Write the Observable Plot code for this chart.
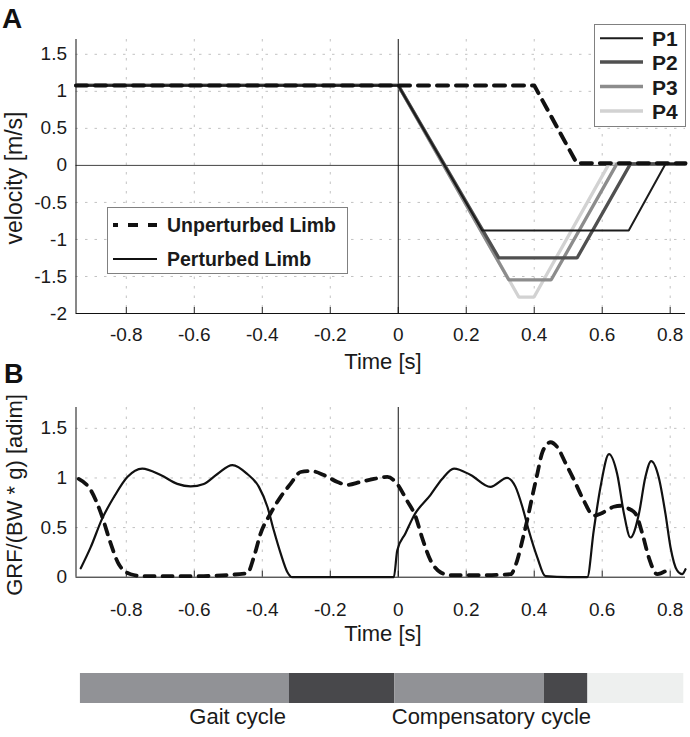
<!DOCTYPE html>
<html><head><meta charset="utf-8">
<script src="https://cdn.jsdelivr.net/npm/d3@7"></script>
<script src="https://cdn.jsdelivr.net/npm/@observablehq/plot@0.6"></script>
<style>
body{margin:0;background:#fff;}
#fig{position:relative;width:690px;height:737px;font-family:"Liberation Sans",Arial,Helvetica,sans-serif;overflow:hidden;}
#fig > svg, #fig > figure{position:absolute;left:0;margin:0;}
</style></head><body><div id="fig"></div>
<script>
// ---------- shared axis ----------
const xTicks = [-0.8, -0.6, -0.4, -0.2, 0, 0.2, 0.4, 0.6, 0.8];
const xDomain = [-0.948, 0.845];

// ---------- Panel A: velocity ----------
const velTicks = [-2, -1.5, -1, -0.5, 0, 0.5, 1, 1.5];
const velDomain = [-2, 1.7];
const unpertT = [-0.948, 0.40, 0.525, 0.845];
const unpertV = [1.08, 1.08, 0.03, 0.03];
const pNames = ["P1", "P2", "P3", "P4"];
const pColors = ["#1c1c1c", "#505050", "#8c8c8c", "#d2d2d2"];
const pWidths = [2, 3.3, 3.3, 3.3];
const pT = [
  [-0.948, 0, 0.247, 0.678, 0.786, 0.845],
  [-0.948, 0, 0.296, 0.526, 0.683, 0.845],
  [-0.948, 0, 0.325, 0.450, 0.643, 0.845],
  [-0.948, 0, 0.355, 0.399, 0.620, 0.845]
];
const pV = [
  [1.08, 1.08, -0.88, -0.88, 0.02, 0.02],
  [1.08, 1.08, -1.25, -1.25, 0.02, 0.02],
  [1.08, 1.08, -1.545, -1.545, 0.02, 0.02],
  [1.08, 1.08, -1.78, -1.78, 0.02, 0.02]
];

// ---------- Panel B: GRF ----------
const grfTicks = [0, 0.5, 1, 1.5];
const grfDomain = [0, 1.71];
const perturbedT = [-0.934,-0.905,-0.871,-0.836,-0.797,-0.753,-0.699,-0.65,-0.611,-0.572,-0.532,-0.488,-0.444,-0.41,-0.385,-0.366,-0.346,-0.326,-0.312,-0.2,-0.013,-0.003,0.021,0.046,0.095,0.129,0.164,0.213,0.271,0.32,0.345,0.365,0.384,0.409,0.433,0.5,0.556,0.575,0.595,0.62,0.644,0.664,0.683,0.708,0.727,0.744,0.766,0.786,0.801,0.82,0.835,0.845];
const perturbedF = [0.09,0.30,0.59,0.81,1.01,1.095,1.03,0.94,0.915,0.94,1.04,1.13,1.04,0.91,0.71,0.47,0.24,0.05,0,0,0,0.27,0.44,0.62,0.83,0.99,1.095,1.03,0.91,1.00,0.91,0.71,0.47,0.2,0.01,0,0,0.47,0.91,1.24,1.04,0.64,0.40,0.64,1.01,1.17,1.01,0.64,0.30,0.07,0.03,0.08];
const unpertBT = [-0.94,-0.905,-0.871,-0.846,-0.822,-0.787,-0.748,-0.6,-0.444,-0.425,-0.405,-0.376,-0.346,-0.317,-0.287,-0.258,-0.219,-0.179,-0.15,-0.111,-0.072,-0.032,-0.008,0.026,0.051,0.07,0.095,0.124,0.154,0.25,0.33,0.35,0.365,0.379,0.394,0.409,0.424,0.448,0.468,0.492,0.517,0.546,0.575,0.595,0.634,0.654,0.678,0.698,0.718,0.737,0.762,0.79];
const unpertBF = [0.99,0.88,0.61,0.34,0.13,0.03,0.01,0.01,0.04,0.20,0.44,0.64,0.81,0.94,1.06,1.07,1.03,0.96,0.93,0.96,0.99,1.01,0.96,0.77,0.61,0.40,0.17,0.05,0.02,0.02,0.03,0.17,0.37,0.57,0.81,1.04,1.26,1.36,1.31,1.15,0.98,0.77,0.62,0.64,0.71,0.72,0.69,0.64,0.44,0.20,0.03,0.07];

// ---------- Phase bar ----------
const phaseStart = [-0.935, -0.32, -0.01, 0.43, 0.558];
const phaseEnd   = [-0.32, -0.01, 0.43, 0.558, 0.84];
const phaseKind  = ["stance", "swing", "stance", "swing", "after"];
const cycleNames = ["Gait cycle", "Compensatory cycle"];
const cycleStart = [-0.935, -0.01];
const cycleEnd   = [-0.01, 0.558];

const FONT = '"Liberation Sans", Arial, Helvetica, sans-serif';
const fmt = d => String(d);
const gridStyle = {stroke: "#c2c2c2", strokeOpacity: 1, strokeDasharray: "2.5,7", strokeWidth: 1};

// rows
const unpertRows = unpertT.map((t, i) => ({t, v: unpertV[i]}));
const pRows = pNames.map((p, k) => pT[k].map((t, i) => ({p, t, v: pV[k][i]})));
const grfPert = perturbedT.map((t, i) => ({t, f: perturbedF[i]}));
const grfUnp = unpertBT.map((t, i) => ({t, f: unpertBF[i]}));
const phases = phaseStart.map((s, i) => ({s, e: phaseEnd[i], k: phaseKind[i]}));
const cycles = cycleNames.map((n, i) => ({n, m: (cycleStart[i] + cycleEnd[i]) / 2}));

const fig = document.getElementById("fig");

// Panel A
const hA = 372, mTA = 39, mBA = 59;
const plotA = Plot.plot({
  width: 690, height: hA, marginTop: mTA, marginBottom: mBA, marginLeft: 75.5, marginRight: 5,
  style: {fontFamily: FONT, fontSize: "19px", color: "#1a1a1a", background: "transparent", overflow: "visible"},
  x: {domain: xDomain},
  y: {domain: velDomain},
  color: {domain: pNames, range: pColors},
  marks: [
    Plot.gridX(xTicks.filter(d => d !== 0), gridStyle),
    Plot.gridY(velTicks.filter(d => d !== velDomain[0] && d !== 0), gridStyle),
    Plot.axisX(xTicks, {tickSize: 0, tickPadding: 14, tickFormat: fmt, fontSize: 19, fill: "#1a1a1a", label: null}),
    Plot.axisY(velTicks, {tickSize: 0, tickPadding: 9, tickFormat: fmt, fontSize: 19, fill: "#1a1a1a", label: null}),
    Plot.tickX(xTicks, {x: d => d, insetTop: hA - mTA - mBA - 6, stroke: "#222"}),
    Plot.ruleY([0], {stroke: "#444", strokeWidth: 1}),
    Plot.ruleX([0], {stroke: "#111", strokeWidth: 1}),
    Plot.ruleX([xDomain[0]], {stroke: "#111"}),
    Plot.ruleY([velDomain[0]], {stroke: "#111"}),
    ...[3, 2, 1, 0].map(k => Plot.line(pRows[k], {x: "t", y: "v", stroke: "p", strokeWidth: pWidths[k], strokeLinejoin: "miter"})),
    Plot.line(unpertRows, {x: "t", y: "v", stroke: "#111", strokeWidth: 4, strokeDasharray: "11,8"})
  ]
});
plotA.style.top = "0px";
fig.appendChild(plotA);

// Panel B
const topB = 370, hB = 280, mTB = 37, mBB = 73.3;
const plotB = Plot.plot({
  width: 690, height: hB, marginTop: mTB, marginBottom: mBB, marginLeft: 75.5, marginRight: 5,
  style: {fontFamily: FONT, fontSize: "19px", color: "#1a1a1a", background: "transparent", overflow: "visible"},
  x: {domain: xDomain},
  y: {domain: grfDomain},
  marks: [
    Plot.gridX(xTicks.filter(d => d !== 0), gridStyle),
    Plot.gridY(grfTicks.filter(d => d !== 0), gridStyle),
    Plot.axisX(xTicks, {tickSize: 0, tickPadding: 25, tickFormat: fmt, fontSize: 19, fill: "#1a1a1a", label: null}),
    Plot.axisY(grfTicks, {tickSize: 0, tickPadding: 9, tickFormat: fmt, fontSize: 19, fill: "#1a1a1a", label: null}),
    Plot.tickX(xTicks, {x: d => d, insetTop: hB - mTB - mBB - 6, stroke: "#222"}),
    Plot.ruleX([0], {stroke: "#111", strokeWidth: 1}),
    Plot.ruleX([xDomain[0]], {stroke: "#111"}),
    Plot.ruleY([grfDomain[0]], {stroke: "#111"}),
    Plot.line(grfPert, {x: "t", y: "f", stroke: "#111", strokeWidth: 2.2, curve: "monotone-x"}),
    Plot.line(grfUnp, {x: "t", y: "f", stroke: "#111", strokeWidth: 3.8, strokeDasharray: "10,8", curve: "monotone-x"})
  ]
});
plotB.style.top = topB + "px";
fig.appendChild(plotB);

// Phase bar
const topC = 665, hC = 72;
const plotC = Plot.plot({
  width: 690, height: hC, marginTop: 0, marginBottom: 0, marginLeft: 75.5, marginRight: 5,
  style: {fontFamily: FONT, fontSize: "22px", color: "#1a1a1a", background: "transparent", overflow: "visible"},
  x: {domain: xDomain, axis: null},
  color: {domain: ["stance", "swing", "after"], range: ["#919296", "#48484b", "#eef0ef"]},
  marks: [
    Plot.rect(phases, {x1: "s", x2: "e", fill: "k", insetTop: 8, insetBottom: 34}),
    Plot.text(cycles, {x: "m", text: "n", frameAnchor: "bottom", dy: -14, fontSize: 22, fill: "#1a1a1a"})
  ]
});
plotC.style.top = topC + "px";
fig.appendChild(plotC);

// Overlay: panel letters, axis titles, legends
const NS = "http://www.w3.org/2000/svg";
const ov = document.createElementNS(NS, "svg");
ov.setAttribute("width", 690); ov.setAttribute("height", 737);
ov.style.top = "0px";
ov.setAttribute("font-family", FONT);
function el(tag, attrs, text) {
  const e = document.createElementNS(NS, tag);
  for (const k in attrs) e.setAttribute(k, attrs[k]);
  if (text != null) e.textContent = text;
  ov.appendChild(e);
  return e;
}
el("text", {x: 2, y: 28, "font-size": 28, "font-weight": "bold", fill: "#111"}, "A");
el("text", {x: 4, y: 383, "font-size": 27, "font-weight": "bold", fill: "#111"}, "B");
el("text", {transform: "translate(22,178) rotate(-90)", "text-anchor": "middle", "font-size": 23, fill: "#1a1a1a"}, "velocity [m/s]");
el("text", {transform: "translate(22,495) rotate(-90)", "text-anchor": "middle", "font-size": 22, fill: "#1a1a1a"}, "GRF/(BW * g) [adim]");
el("text", {x: 383, y: 369, "text-anchor": "middle", "font-size": 22, fill: "#1a1a1a"}, "Time [s]");
el("text", {x: 383, y: 641, "text-anchor": "middle", "font-size": 22, fill: "#1a1a1a"}, "Time [s]");
// legend P1..P4
el("rect", {x: 594.5, y: 24.5, width: 91, height: 102, fill: "#fff", stroke: "#808080", "stroke-width": 1});
const legY = [38.3, 62, 86.5, 111];
pNames.forEach((p, k) => {
  el("line", {x1: 600, x2: 643, y1: legY[k], y2: legY[k], stroke: pColors[k], "stroke-width": pWidths[k]});
  el("text", {x: 652, y: legY[k] + 8, "font-size": 21, "font-weight": "bold", fill: "#1a1a1a"}, p);
});
// legend limbs
el("rect", {x: 107.5, y: 207.5, width: 240, height: 66, fill: "#fff", stroke: "#808080", "stroke-width": 1});
el("line", {x1: 113, x2: 157, y1: 225, y2: 225, stroke: "#111", "stroke-width": 4, "stroke-dasharray": "10,10", "stroke-dashoffset": 5});
el("text", {x: 167, y: 232, "font-size": 19.5, "font-weight": "bold", fill: "#1a1a1a"}, "Unperturbed Limb");
el("line", {x1: 113, x2: 157, y1: 259, y2: 259, stroke: "#111", "stroke-width": 2});
el("text", {x: 167, y: 266, "font-size": 19.5, "font-weight": "bold", fill: "#1a1a1a"}, "Perturbed Limb");
fig.appendChild(ov);
</script>
</body></html>
